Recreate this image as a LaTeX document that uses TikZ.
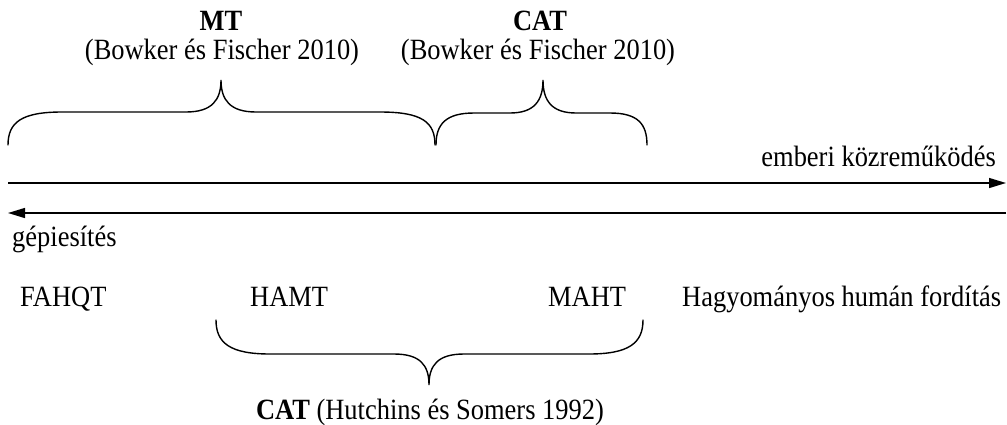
\documentclass[tikz,border=0pt]{standalone}
\usepackage{fontspec}
\setmainfont[FakeStretch=0.9]{Liberation Serif}
\usetikzlibrary{arrows.meta}
\tikzset{
  lbl/.style={inner sep=0pt, font=\fontsize{29.4}{33}\selectfont},
  bracepath/.style={line width=1.4pt, line cap=round},
  axis/.style={line width=1.3pt},
  tipR/.style={-{Triangle[length=17pt,width=10pt]}},
}
\begin{document}
\begin{tikzpicture}[x=1pt,y=-1pt]
\useasboundingbox (0,0) rectangle (1007,424);
% top labels
\node[lbl, anchor=base] (mt) at (221,30) {\textbf{MT}};
\node[lbl, anchor=base] (mtref) at (222,59) {(Bowker és Fischer 2010)};
\node[lbl, anchor=base] (cat1) at (540,30) {\textbf{CAT}};
\node[lbl, anchor=base] (cat1ref) at (538,59) {(Bowker és Fischer 2010)};
% top braces
\draw[bracepath] (8,145) .. controls (8,122) and (22,112) .. (62,112)
  -- (186,112) .. controls (212,112) and (221,100) .. (221,80)
  .. controls (221,100) and (230,112) .. (256,112)
  -- (380,112) .. controls (422,112) and (435,122) .. (435,145);
\draw[bracepath] (436,145) .. controls (436,124) and (446,113) .. (474,113)
  -- (510,113) .. controls (534,113) and (543,101) .. (543,80)
  .. controls (543,101) and (552,113) .. (576,113)
  -- (610,113) .. controls (638,113) and (647,124) .. (647,145);
% axes
\coordinate (a1s) at (8,183);
\coordinate (a1e) at (1006,183);
\coordinate (a2s) at (1006,213);
\coordinate (a2e) at (8,213);
\draw[axis, tipR] (a1s) -- (a1e);
\draw[axis, tipR] (a2s) -- (a2e);
\node[lbl, anchor=base east] (human) at (996,166) {emberi közreműködés};
\node[lbl, anchor=base west] (gep) at (12,246) {gépiesítés};
% row labels
\node[lbl, anchor=base west] (fahqt) at (20,306) {FAHQT};
\node[lbl, anchor=base west] (hamt) at (250,306) {HAMT};
\node[lbl, anchor=base west] (maht) at (548,306) {MAHT};
\node[lbl, anchor=base west] (hagy) at (682,306) {Hagyományos humán fordítás};
% bottom brace
\draw[bracepath] (216,320) .. controls (216,343) and (230,354) .. (270,354)
  -- (394,354) .. controls (420,354) and (429,365) .. (429,385)
  .. controls (429,365) and (438,354) .. (464,354)
  -- (589,354) .. controls (629,354) and (643,343) .. (643,320);
\node[lbl, anchor=base] (cat2) at (430,419) {\textbf{CAT} (Hutchins és Somers 1992)};
\end{tikzpicture}
\end{document}
